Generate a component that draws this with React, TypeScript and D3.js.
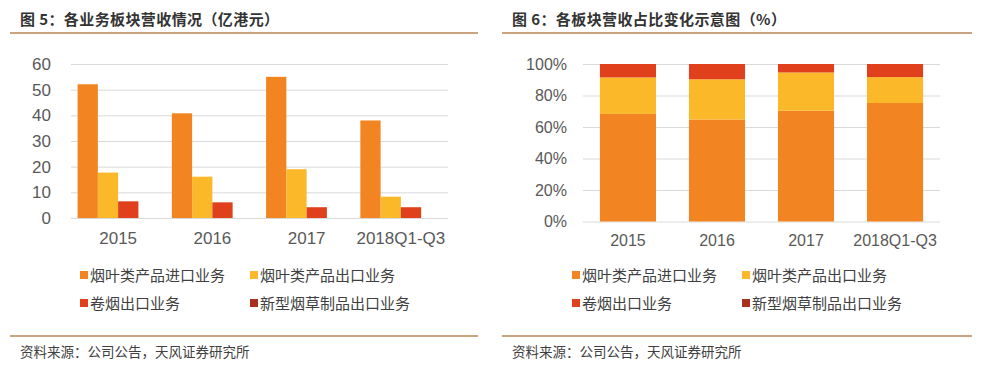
import * as d3 from 'd3';
import { useEffect, useRef } from 'react';

const categories = ['2015', '2016', '2017', '2018Q1-Q3'];
const seriesNames = ['烟叶类产品进口业务', '烟叶类产品出口业务', '卷烟出口业务', '新型烟草制品出口业务'];
const leafImport = [52.1, 40.8, 55.0, 38.0];
const leafExport = [17.7, 16.1, 19.0, 8.3];
const cigaretteExport = [6.5, 6.1, 4.2, 4.2];
const newTobaccoExport = [0, 0, 0, 0];
const revenueTicks = [0, 10, 20, 30, 40, 50, 60];
const shareTicks = [0, 0.2, 0.4, 0.6, 0.8, 1];
const colors = ['#F28522', '#FBB829', '#E0401C', '#A8301E'];

const W = 984, H = 365;
const font = '"Liberation Sans", Arial, sans-serif';
const cjk = '"Noto Sans CJK SC", sans-serif';

export default function App() {
    const ref = useRef<SVGSVGElement>(null);

    useEffect(() => {
        const svg = d3.select(ref.current);
        svg.selectAll('*').remove();
        svg.append('rect').attr('width', W).attr('height', H).attr('fill', '#fff');

        const series = [leafImport, leafExport, cigaretteExport, newTobaccoExport];
        const rows = categories.map((c, i) => {
            const r: any = { cat: c };
            seriesNames.forEach((s, j) => { r[s] = series[j][i]; });
            return r;
        });

        // shared frame: titles, rules, legend, source
        function frame(x0: number, x1: number, textX: number, title: string, legendX: number[]) {
            svg.append('text').attr('x', textX).attr('y', 25)
                .attr('font-family', cjk).attr('font-size', 15).attr('font-weight', 'bold')
                .attr('letter-spacing', 0.4).attr('fill', '#333').text(title);
            [33, 336].forEach(y => {
                svg.append('line').attr('x1', x0).attr('x2', x1).attr('y1', y).attr('y2', y)
                    .attr('stroke', '#C9A47E').attr('stroke-width', 2);
            });
            svg.append('text').attr('x', textX).attr('y', 357)
                .attr('font-family', cjk).attr('font-size', 13.5).attr('fill', '#404040')
                .text('资料来源：公司公告，天风证券研究所');
            seriesNames.forEach((s, j) => {
                const lx = legendX[j % 2];
                const ly = j < 2 ? 275 : 303;
                svg.append('rect').attr('x', lx).attr('y', ly - 4).attr('width', 8).attr('height', 8)
                    .attr('fill', colors[j]);
                svg.append('text').attr('x', lx + 10).attr('y', ly + 6)
                    .attr('font-family', cjk).attr('font-size', 15).attr('fill', '#404040').text(s);
            });
        }

        frame(10, 478, 20, '图 5：各业务板块营收情况（亿港元）', [80, 250]);
        frame(502, 972, 512, '图 6：各板块营收占比变化示意图（%）', [572, 742]);

        // left: grouped bars
        const x = d3.scaleBand().domain(categories).range([71, 448]).paddingInner(0.14).paddingOuter(0.07);
        const xs = d3.scaleBand().domain(seriesNames).range([0, x.bandwidth()]);
        const y = d3.scaleLinear().domain([0, 60]).range([218, 64]);
        const gl = svg.append('g');
        gl.append('g').attr('transform', 'translate(71,0)')
            .call(d3.axisLeft(y).tickValues(revenueTicks).tickSize(-377).tickPadding(20))
            .call(g => g.select('.domain').remove())
            .call(g => g.selectAll('.tick line').attr('stroke', '#D9D9D9'))
            .call(g => g.selectAll('.tick text').attr('font-family', font).attr('font-size', 17).attr('fill', '#595959'));
        gl.append('g').attr('transform', 'translate(0,218)')
            .call(d3.axisBottom(x).tickSize(0).tickPadding(14))
            .call(g => g.select('.domain').remove())
            .call(g => g.selectAll('.tick text').attr('font-family', font).attr('font-size', 17).attr('fill', '#595959'));
        seriesNames.forEach((s, j) => {
            gl.selectAll(null).data(rows).enter().append('rect')
                .attr('x', (d: any) => (x(d.cat) as number) + (xs(s) as number))
                .attr('y', (d: any) => y(d[s]))
                .attr('width', xs.bandwidth())
                .attr('height', (d: any) => 218 - y(d[s]))
                .attr('fill', colors[j]);
        });

        // right: 100% stacked bars
        const x2 = d3.scaleBand().domain(categories).range([583, 940]).paddingInner(0.37).paddingOuter(0.19);
        const y2 = d3.scaleLinear().domain([0, 1]).range([221.5, 64]);
        const gr = svg.append('g');
        gr.append('g').attr('transform', 'translate(583,0)')
            .call(d3.axisLeft(y2).tickValues(shareTicks).tickFormat(d3.format('.0%')).tickSize(-357).tickPadding(16))
            .call(g => g.select('.domain').remove())
            .call(g => g.selectAll('.tick line').attr('stroke', '#D9D9D9'))
            .call(g => g.selectAll('.tick text').attr('font-family', font).attr('font-size', 16).attr('fill', '#595959'));
        gr.append('g').attr('transform', 'translate(0,221.5)')
            .call(d3.axisBottom(x2).tickSize(0).tickPadding(13))
            .call(g => g.select('.domain').remove())
            .call(g => g.selectAll('.tick text').attr('font-family', font).attr('font-size', 16).attr('fill', '#595959'));
        const stacked = d3.stack().keys(seriesNames).offset(d3.stackOffsetExpand)(rows);
        stacked.forEach((layer, j) => {
            gr.selectAll(null).data(layer).enter().append('rect')
                .attr('x', (d: any) => x2(d.data.cat) as number)
                .attr('y', d => y2(d[1]))
                .attr('width', x2.bandwidth())
                .attr('height', d => y2(d[0]) - y2(d[1]))
                .attr('fill', colors[j]);
        });
    }, []);

    return (
        <svg ref={ref} width={W} height={H}
            style={{ position: 'absolute', left: 0, top: 0, display: 'block' }} />
    );
}
